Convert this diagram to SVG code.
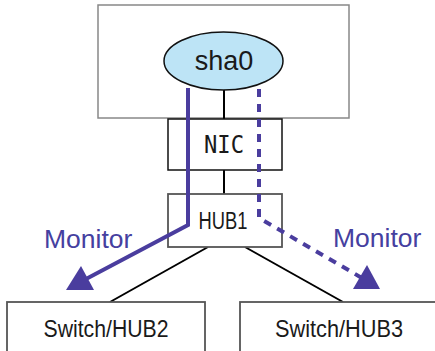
<svg xmlns="http://www.w3.org/2000/svg" width="435" height="351" viewBox="0 0 435 351">
<defs>
<style>
.box{fill:#fff;stroke:#555;stroke-width:1.8}
.blk{stroke:#000;stroke-width:2;fill:none}
.pur{stroke:#4a3d9e;stroke-width:4;fill:none;stroke-linejoin:miter}
.dash{stroke-dasharray:8 7}
.ah{fill:#4a3d9e}
.t{font-family:"Liberation Sans",Arial,sans-serif;fill:#1a1a1a;text-anchor:middle}
.mono{font-family:"DejaVu Sans Mono","Liberation Mono",monospace;fill:#1a1a1a;text-anchor:middle}
.mon{font-family:"Liberation Sans",Arial,sans-serif;fill:#4540a0;font-size:26.5px}
</style>
</defs>
<rect width="435" height="351" fill="#fff"/>
<g id="host">
<rect x="98" y="5" width="251" height="113" style="fill:#fff;stroke:#888;stroke-width:1.5"/>
</g>
<g id="connectors">
<line class="blk" x1="224" y1="89" x2="224" y2="119"/>
<line class="blk" x1="224" y1="170" x2="224" y2="194"/>
<line class="blk" x1="208" y1="247" x2="110" y2="302"/>
<line class="blk" x1="245" y1="247" x2="343" y2="302"/>
</g>
<g id="sha0">
<ellipse cx="223.5" cy="61" rx="59.5" ry="29" style="fill:#bde4f6;stroke:#111;stroke-width:1.5"/>
<text class="t" x="224" y="70" font-size="27">sha0</text>
</g>
<g id="nic">
<rect x="168" y="119" width="114" height="51" style="fill:#fff;stroke:#111;stroke-width:1.5"/>
<text class="mono" x="224" y="153" font-size="24" textLength="40" lengthAdjust="spacingAndGlyphs">NIC</text>
</g>
<g id="hub1">
<rect x="168" y="194" width="114" height="53" class="box"/>
<text class="t" x="223" y="228.5" font-size="23.5" textLength="49" lengthAdjust="spacingAndGlyphs">HUB1</text>
</g>
<g id="hub2">
<rect x="7" y="302" width="198" height="60" class="box"/>
<text class="t" x="106" y="337" font-size="24.5" textLength="125" lengthAdjust="spacingAndGlyphs">Switch/HUB2</text>
</g>
<g id="hub3">
<rect x="240" y="302" width="200" height="60" class="box"/>
<text class="t" x="339" y="337" font-size="24.5" textLength="128" lengthAdjust="spacingAndGlyphs">Switch/HUB3</text>
</g>
<g id="monitor-paths">
<polyline class="pur" points="188,88 188,225 86,279"/>
<polygon class="ah" points="66,290 81,266 94,290"/>
<polyline class="pur dash" points="259,89 259,218 362,278"/>
<polygon class="ah" points="380,289 367,265 353,289"/>
<text class="mon" x="44" y="248">Monitor</text>
<text class="mon" x="333" y="247">Monitor</text>
</g>
</svg>
